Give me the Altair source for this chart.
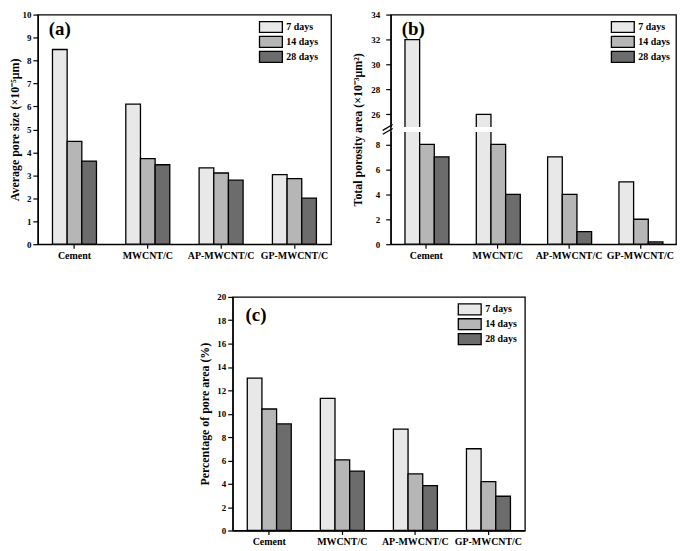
import altair as alt
import pandas as pd

categories = ["Cement", "MWCNT/C", "AP-MWCNT/C", "GP-MWCNT/C"]
ages = ["7 days", "14 days", "28 days"]

pore_size_7 = [8.48, 6.10, 3.32, 3.03]
pore_size_14 = [4.48, 3.73, 3.10, 2.86]
pore_size_28 = [3.62, 3.46, 2.79, 2.01]

porosity_7 = [32, 26, 7, 5]
porosity_14 = [8, 8, 4, 2]
porosity_28 = [7, 4, 1, 0.18]

pore_pct_7 = [13.05, 11.32, 8.68, 7.0]
pore_pct_14 = [10.4, 6.05, 4.85, 4.18]
pore_pct_28 = [9.12, 5.08, 3.85, 2.93]

ticks_a = list(range(0, 11))
ticks_b = [0, 2, 4, 6, 8, 26, 28, 30, 32, 34]
ticks_c = list(range(0, 21, 2))

colors = ["#e8e8e8", "#b6b6b6", "#6c6c6c"]
FONT = "Liberation Serif"


def long_df(v7, v14, v28):
    rows = []
    for age, vals in zip(ages, [v7, v14, v28]):
        for c, v in zip(categories, vals):
            rows.append({"cat": c, "age": age, "value": v})
    return pd.DataFrame(rows)


def legend(lx, ly):
    return alt.Legend(
        title=None, orient="none", legendX=lx, legendY=ly, padding=0,
        symbolType="M-2.09,-1H2.09V1H-2.09Z", symbolSize=121,
        symbolStrokeColor="black", symbolStrokeWidth=1.3, symbolOpacity=1,
        labelFont=FONT, labelFontSize=10, labelFontWeight="bold", labelColor="black",
        labelOffset=9, rowPadding=-4,
    )


def bars(df, y_scale, y_axis, lx, ly):
    return alt.Chart(df).mark_bar(stroke="black", strokeWidth=1.3, opacity=1).encode(
        x=alt.X("cat:N", sort=categories,
                scale=alt.Scale(paddingInner=0.4, paddingOuter=0.2),
                axis=alt.Axis(title=None, labelAngle=0, tickSize=4, labelPadding=2,
                              labelFontSize=10)),
        xOffset=alt.XOffset("age:N", sort=ages, scale=alt.Scale(paddingInner=0)),
        y=alt.Y("value:Q", scale=y_scale, axis=y_axis),
        color=alt.Color("age:N", sort=ages, scale=alt.Scale(domain=ages, range=colors),
                        legend=legend(lx, ly)),
    )


def panel_label(txt, x, y):
    return alt.Chart(pd.DataFrame({"t": [txt]})).mark_text(
        font=FONT, fontSize=19, fontWeight="bold", align="left", baseline="alphabetic",
        color="black").encode(x=alt.value(x), y=alt.value(y), text="t:N")


# panel a
HA = 231
WA = 295
a = alt.layer(
    bars(long_df(pore_size_7, pore_size_14, pore_size_28),
         alt.Scale(domain=[0, 10], nice=False),
         alt.Axis(values=ticks_a, tickCount=30, format="d",
                  title="Average pore size (×10⁻⁵μm)",
                  tickSize=5, labelPadding=2, minExtent=14, maxExtent=14, titlePadding=2,
                  labelOverlap=False),
         WA - 67, 6),
    panel_label("(a)", 11, 21),
).properties(width=WA, height=HA)

# panel b (broken axis)
HB = 231
WB = 287
GAP = 5
seg = (HB - GAP) / 18.0
b_scale = alt.Scale(domain=[0, 9, 25, 34], range=[HB, HB - 9 * seg, 9 * seg, 0], nice=False)
band = alt.Chart(pd.DataFrame({"k": [0]})).mark_rect(color="white").encode(
    x=alt.value(1), x2=alt.value(WB - 1), y=alt.datum(9), y2=alt.datum(25))
mid = 9 * seg + GAP / 2.0
slash1 = alt.Chart(pd.DataFrame({"k": [0]})).mark_rule(color="black", strokeWidth=1.2).encode(
    x=alt.value(-8), x2=alt.value(2), y=alt.value(mid + 1), y2=alt.value(mid - 5))
slash2 = alt.Chart(pd.DataFrame({"k": [0]})).mark_rule(color="black", strokeWidth=1.2).encode(
    x=alt.value(-8), x2=alt.value(2), y=alt.value(mid + 5), y2=alt.value(mid - 1))
b = alt.layer(
    bars(long_df(porosity_7, porosity_14, porosity_28), b_scale,
         alt.Axis(values=ticks_b, tickCount=30, format="d",
                  title="Total porosity area (×10⁻³μm²)",
                  tickSize=5, labelPadding=6, minExtent=22, maxExtent=22, titlePadding=4,
                  labelOverlap=False),
         WB - 60, 6),
    band, slash1, slash2,
    panel_label("(b)", 11, 21),
).properties(width=WB, height=HB)

# panel c
HC = 235
WC = 294
c = alt.layer(
    bars(long_df(pore_pct_7, pore_pct_14, pore_pct_28),
         alt.Scale(domain=[0, 20], nice=False),
         alt.Axis(values=ticks_c, tickCount=30, format="d",
                  title="Percentage of pore area (%)",
                  tickSize=5, labelPadding=2, minExtent=16, maxExtent=16, titlePadding=5,
                  labelOverlap=False),
         WC - 62, 6),
    panel_label("(c)", 13, 24),
).properties(width=WC, height=HC)

spacer = alt.Chart(pd.DataFrame({"k": [0]})).mark_point(opacity=0).encode(
    x=alt.value(0), y=alt.value(0)
).properties(width=160, height=10, view=alt.ViewBackground(stroke="transparent"))

top = alt.hconcat(a, b, spacing=19).resolve_scale(color="independent")
bottom = alt.hconcat(spacer, c, spacing=0).resolve_scale(color="independent")

chart = alt.vconcat(top, bottom, spacing=31).resolve_scale(color="independent").properties(
    padding=0
).configure_view(stroke="black", strokeWidth=1.3).configure_axis(
    labelFont=FONT, labelFontWeight="bold", labelFontSize=9, labelColor="black",
    titleFont=FONT, titleFontWeight="bold", titleFontSize=12, titleColor="black",
    domainColor="black", domainWidth=1.3, tickColor="black", tickWidth=1.2, grid=False,
    labelOverlap=False,
)

chart.save("out.html", embed_options={"renderer": "svg", "actions": False})
